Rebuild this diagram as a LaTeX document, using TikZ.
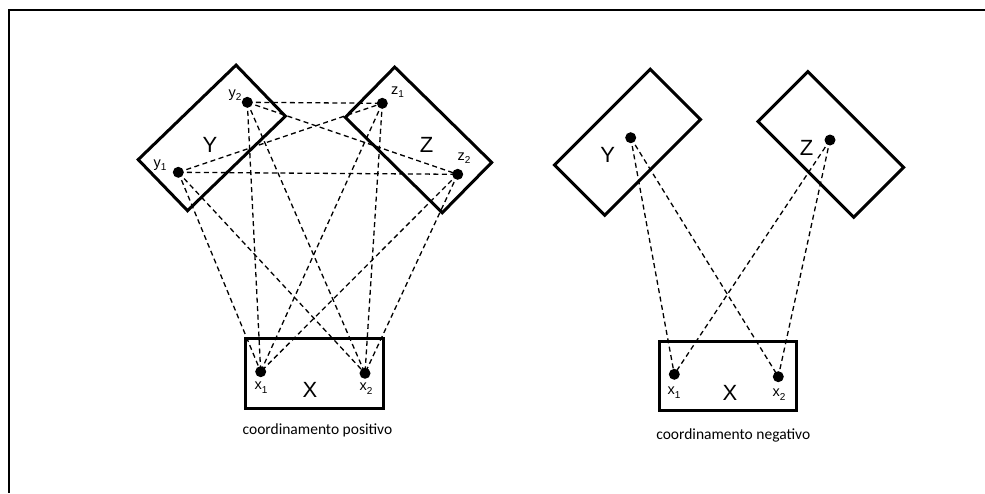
\documentclass[tikz,border=0pt]{standalone}
\usepackage{fontspec}
\setmainfont{Liberation Sans}
\newfontfamily\capfont{Carlito}
\begin{document}
\begin{tikzpicture}[x=1pt,y=-1pt,
  box/.style={draw,line width=3pt,inner sep=0pt,outer sep=0pt},
  dot/.style={circle,fill,inner sep=0pt,minimum size=11pt},
  dsh/.style={dash pattern=on 5pt off 3.5pt,line width=1.3pt},
  big/.style={font=\fontsize{22}{22}\selectfont},
  lbl/.style={font=\fontsize{14.5}{14.5}\selectfont,inner sep=0pt},
  captext/.style={font=\capfont\fontsize{15.5}{15.5}\selectfont}]
\newcommand{\sublab}[2]{#1\raisebox{-0.45ex}{\fontsize{10}{10}\selectfont #2}}
\useasboundingbox (0,0) rectangle (985,493);
% frame
\coordinate (fa) at (985,10);
\coordinate (fb) at (8.5,10);
\coordinate (fc) at (8.5,493);
\draw[line width=2pt] (fa) -- (fb) -- (fc);
% ---------- left diagram ----------
\node[box,minimum width=136pt,minimum height=71pt,rotate=44] (Ybox) at (211.8,137.9) {};
\node[box,minimum width=136pt,minimum height=70.5pt,rotate=-44.5] (Zbox) at (418.5,139.9) {};
\node[box,minimum width=138.3pt,minimum height=70pt] (Xbox) at (314.2,373.3) {};
\node[big] (Yl) at (210,145) {Y};
\node[big] (Zl) at (426.7,145) {Z};
\node[big] (Xl) at (310,390) {X};
\node[dot] (y2) at (247.3,102.3) {};
\node[dot] (y1) at (178.3,172.3) {};
\node[dot] (z1) at (382.3,103.3) {};
\node[dot] (z2) at (457.7,174.3) {};
\node[dot] (x1) at (260.7,371.7) {};
\node[dot] (x2) at (365,373.3) {};
\node[lbl] (y2l) at (235,95) {\sublab{y}{2}};
\node[lbl] (y1l) at (160,165) {\sublab{y}{1}};
\node[lbl] (z1l) at (397.5,92) {\sublab{z}{1}};
\node[lbl] (z2l) at (464,158) {\sublab{z}{2}};
\node[lbl] (x1l) at (261,387.5) {\sublab{x}{1}};
\node[lbl] (x2l) at (366,388.5) {\sublab{x}{2}};
\foreach \a/\b in {y2/z1,y2/z2,y1/z1,y1/z2,y1/x1,y1/x2,y2/x1,y2/x2,z1/x1,z1/x2,z2/x1,z2/x2}
  \draw[dsh] (\a.center) -- (\b.center);
\node[captext] (capL) at (317.5,430) {coordinamento positivo};
% ---------- right diagram ----------
\node[box,minimum width=135.5pt,minimum height=71pt,rotate=45] (RYbox) at (627.5,142.2) {};
\node[box,minimum width=135.5pt,minimum height=70.5pt,rotate=-45] (RZbox) at (830.8,144.4) {};
\node[box,minimum width=136.7pt,minimum height=69.3pt] (RXbox) at (728.3,376.3) {};
\node[big] (RYl) at (607.7,155) {Y};
\node[big] (RZl) at (806.7,148.3) {Z};
\node[big] (RXl) at (730,393) {X};
\node[dot] (ry) at (630.7,137.7) {};
\node[dot] (rz) at (830,140) {};
\node[dot] (rx1) at (674.3,374.3) {};
\node[dot] (rx2) at (778.3,376.7) {};
\node[lbl] (rx1l) at (674,392.5) {\sublab{x}{1}};
\node[lbl] (rx2l) at (779,394.5) {\sublab{x}{2}};
\foreach \a/\b in {ry/rx1,ry/rx2,rz/rx1,rz/rx2}
  \draw[dsh] (\a.center) -- (\b.center);
\node[captext] (capR) at (733.3,435) {coordinamento negativo};
\end{tikzpicture}
\end{document}
